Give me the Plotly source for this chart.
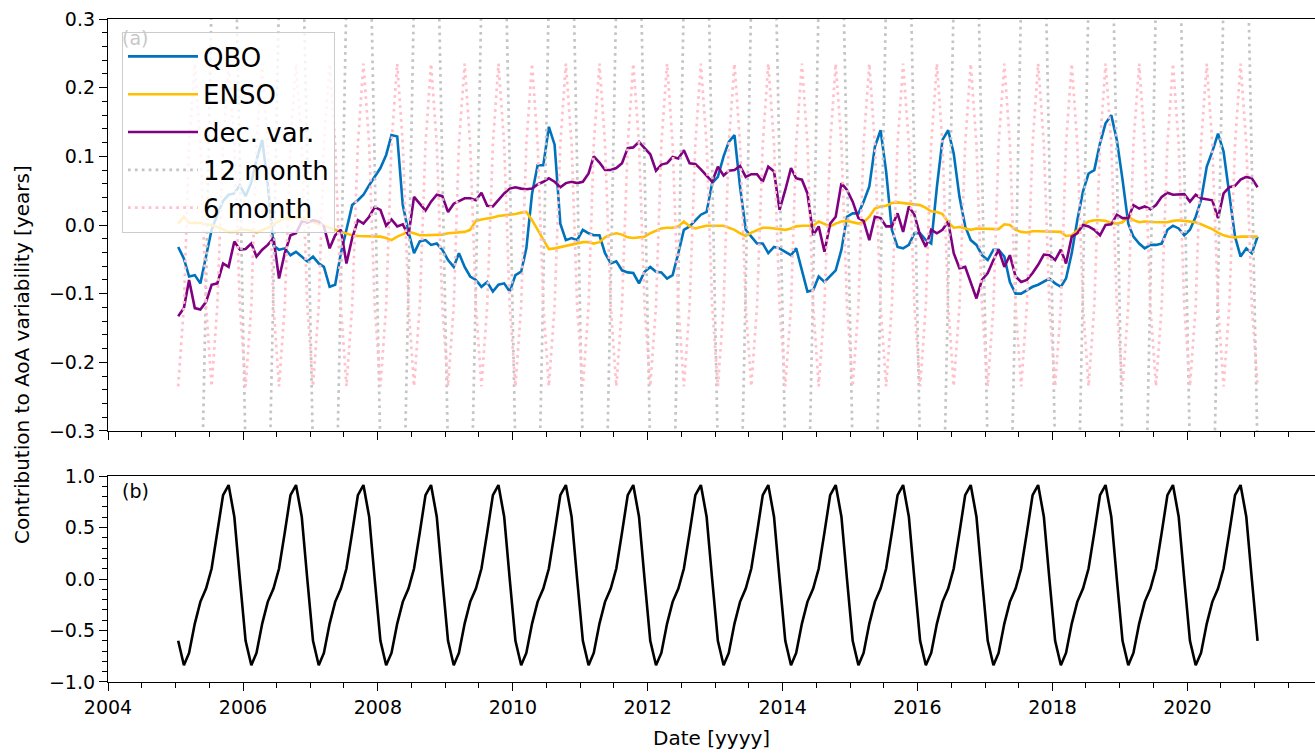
import plotly.graph_objects as go

# ---------------- data (monthly, Jan 2005 .. Jan 2021) ----------------
DATES = [f"{y}-{m:02d}-15" for y in range(2005, 2021) for m in range(1, 13)] + ["2021-01-15"]

QBO = [
    -0.032, -0.049, -0.075, -0.073, -0.085, -0.046, -0.007, 0.015, 0.035, 0.044, 0.046, 0.058,   # 2005
    0.042, 0.062, 0.095, 0.124, 0.060, -0.030, -0.036, -0.034, -0.044, -0.039, -0.046, -0.053,   # 2006
    -0.046, -0.056, -0.061, -0.090, -0.087, -0.041, -0.007, 0.029, 0.036, 0.044, 0.058, 0.070,   # 2007
    0.083, 0.102, 0.131, 0.129, 0.029, -0.010, -0.041, -0.024, -0.022, -0.029, -0.027, -0.036,   # 2008
    -0.051, -0.061, -0.041, -0.061, -0.075, -0.080, -0.090, -0.083, -0.097, -0.087, -0.085, -0.097,  # 2009
    -0.073, -0.068, -0.034, 0.046, 0.087, 0.087, 0.143, 0.117, 0.002, -0.022, -0.019, -0.022,    # 2010
    -0.007, -0.012, -0.015, -0.015, -0.041, -0.056, -0.053, -0.066, -0.069, -0.070, -0.085, -0.068,  # 2011
    -0.061, -0.068, -0.069, -0.078, -0.073, -0.041, -0.007, -0.002, 0.007, 0.015, 0.019, 0.061,  # 2012
    0.070, 0.100, 0.121, 0.131, 0.056, -0.007, -0.017, -0.027, -0.027, -0.041, -0.032, -0.034,   # 2013
    -0.039, -0.044, -0.034, -0.066, -0.097, -0.095, -0.075, -0.083, -0.075, -0.066, -0.036, 0.012,  # 2014
    0.017, 0.017, 0.034, 0.056, 0.114, 0.138, 0.078, -0.007, -0.032, -0.034, -0.029, -0.012,     # 2015
    -0.012, -0.022, -0.027, 0.056, 0.124, 0.138, 0.104, 0.041, -0.002, -0.022, -0.029, -0.044,   # 2016
    -0.051, -0.036, -0.036, -0.046, -0.083, -0.100, -0.100, -0.095, -0.090, -0.087, -0.083, -0.078,  # 2017
    -0.085, -0.090, -0.078, -0.041, 0.007, 0.049, 0.075, 0.080, 0.119, 0.148, 0.160, 0.124,     # 2018
    0.066, 0.002, -0.017, -0.027, -0.034, -0.029, -0.029, -0.027, -0.007, -0.001, -0.005, -0.015,  # 2019
    -0.007, 0.012, 0.036, 0.085, 0.107, 0.133, 0.107, 0.041, -0.017, -0.046, -0.034, -0.041,     # 2020
    -0.017,                                                                                       # 2021
]

ENSO = [
    0.002, 0.012, 0.003, 0.003, 0.003, 0.001, 0.000, -0.003, -0.007, -0.010, -0.010, -0.007,     # 2005
    -0.007, -0.008, -0.011, -0.008, -0.004, 0.001, 0.006, 0.010, 0.010, 0.011, 0.010, 0.007,     # 2006
    0.005, 0.001, -0.002, -0.005, -0.007, -0.010, -0.013, -0.015, -0.016, -0.016, -0.016, -0.016,  # 2007
    -0.017, -0.019, -0.022, -0.017, -0.013, -0.010, -0.012, -0.015, -0.015, -0.015, -0.015, -0.014,  # 2008
    -0.012, -0.011, -0.011, -0.010, -0.007, 0.006, 0.008, 0.009, 0.011, 0.013, 0.014, 0.014,     # 2009
    0.016, 0.018, 0.019, 0.007, -0.007, -0.021, -0.035, -0.034, -0.032, -0.031, -0.029, -0.027,  # 2010
    -0.025, -0.025, -0.027, -0.025, -0.018, -0.014, -0.012, -0.014, -0.018, -0.019, -0.018, -0.017,  # 2011
    -0.012, -0.008, -0.005, -0.004, -0.004, -0.002, 0.005, -0.002, -0.005, -0.003, -0.001, -0.001,  # 2012
    -0.001, -0.001, -0.004, -0.007, -0.012, -0.016, -0.011, -0.007, -0.004, -0.004, -0.005, -0.006,  # 2013
    -0.007, -0.005, -0.002, -0.001, -0.001, -0.001, 0.005, 0.002, -0.002, 0.002, 0.005, 0.006,   # 2014
    0.004, 0.002, 0.004, 0.012, 0.024, 0.027, 0.028, 0.032, 0.033, 0.032, 0.031, 0.030,         # 2015
    0.029, 0.025, 0.020, 0.019, 0.016, 0.004, -0.004, -0.003, -0.005, -0.007, -0.005, -0.005,    # 2016
    -0.005, -0.006, -0.006, 0.001, 0.000, -0.007, -0.010, -0.011, -0.009, -0.009, -0.009, -0.009,  # 2017
    -0.010, -0.010, -0.016, -0.015, -0.008, 0.000, 0.005, 0.007, 0.007, 0.006, 0.003, 0.002,     # 2018
    0.004, 0.012, 0.007, 0.004, 0.005, 0.004, 0.004, 0.004, 0.004, 0.006, 0.007, 0.006,         # 2019
    0.005, 0.004, 0.001, -0.002, -0.006, -0.011, -0.015, -0.017, -0.018, -0.017, -0.017, -0.017,  # 2020
    -0.017,                                                                                       # 2021
]

DEC_VAR = [
    -0.133, -0.121, -0.080, -0.121, -0.123, -0.112, -0.087, -0.085, -0.056, -0.061, -0.024, -0.036,  # 2005
    -0.035, -0.027, -0.046, -0.036, -0.029, -0.019, -0.078, -0.041, -0.015, -0.012, 0.005, 0.003,  # 2006
    0.007, 0.005, -0.002, -0.034, -0.015, -0.007, -0.056, -0.019, 0.007, 0.002, 0.012, 0.026,    # 2007
    0.022, -0.001, 0.008, -0.002, 0.001, -0.015, 0.041, 0.031, 0.021, 0.034, 0.044, 0.042,      # 2008
    0.019, 0.031, 0.035, 0.039, 0.039, 0.036, 0.047, 0.028, 0.027, 0.037, 0.046, 0.053,         # 2009
    0.055, 0.053, 0.052, 0.053, 0.059, 0.063, 0.068, 0.063, 0.055, 0.061, 0.063, 0.061,         # 2010
    0.063, 0.075, 0.100, 0.091, 0.080, 0.080, 0.083, 0.090, 0.112, 0.113, 0.121, 0.112,         # 2011
    0.103, 0.079, 0.088, 0.090, 0.099, 0.097, 0.109, 0.090, 0.089, 0.081, 0.071, 0.063,         # 2012
    0.085, 0.072, 0.079, 0.080, 0.086, 0.070, 0.074, 0.074, 0.063, 0.085, 0.078, 0.022,         # 2013
    0.051, 0.083, 0.068, 0.066, 0.046, -0.015, -0.002, -0.039, 0.002, 0.012, 0.061, 0.051,      # 2014
    0.034, 0.010, 0.006, -0.022, 0.012, 0.010, -0.002, -0.002, 0.017, -0.010, 0.027, 0.015,     # 2015
    -0.015, -0.032, -0.007, -0.012, -0.007, 0.005, -0.041, -0.063, -0.061, -0.085, -0.107, -0.080,  # 2016
    -0.070, -0.051, -0.036, -0.061, -0.044, -0.075, -0.083, -0.080, -0.070, -0.058, -0.043, -0.044,  # 2017
    -0.051, -0.036, -0.056, -0.017, -0.012, 0.000, -0.002, -0.007, -0.015, 0.000, 0.001, 0.015,  # 2018
    0.010, 0.010, 0.029, 0.024, 0.027, 0.023, 0.029, 0.041, 0.047, 0.044, 0.045, 0.045,         # 2019
    0.034, 0.044, 0.039, 0.037, 0.036, 0.010, 0.046, 0.055, 0.057, 0.066, 0.070, 0.068,         # 2020
    0.055,                                                                                        # 2021
]

# 12-month harmonic (large amplitude, mostly outside the visible range)
M12 = [
    -0.334, -0.663, -0.816, -0.750, -0.482, -0.086, 0.334, 0.663, 0.816, 0.750, 0.482, 0.086,  # 2005
    -0.334, -0.663, -0.816, -0.750, -0.482, -0.086, 0.334, 0.663, 0.816, 0.750, 0.482, 0.086,  # 2006
    -0.334, -0.663, -0.816, -0.750, -0.482, -0.086, 0.334, 0.663, 0.816, 0.750, 0.482, 0.086,  # 2007
    -0.334, -0.663, -0.816, -0.750, -0.482, -0.086, 0.334, 0.663, 0.816, 0.750, 0.482, 0.086,  # 2008
    -0.334, -0.663, -0.816, -0.750, -0.482, -0.086, 0.334, 0.663, 0.816, 0.750, 0.482, 0.086,  # 2009
    -0.334, -0.663, -0.816, -0.750, -0.482, -0.086, 0.334, 0.663, 0.816, 0.750, 0.482, 0.086,  # 2010
    -0.334, -0.663, -0.816, -0.750, -0.482, -0.086, 0.334, 0.663, 0.816, 0.750, 0.482, 0.086,  # 2011
    -0.334, -0.663, -0.816, -0.750, -0.482, -0.086, 0.334, 0.663, 0.816, 0.750, 0.482, 0.086,  # 2012
    -0.334, -0.663, -0.816, -0.750, -0.482, -0.086, 0.334, 0.663, 0.816, 0.750, 0.482, 0.086,  # 2013
    -0.334, -0.663, -0.816, -0.750, -0.482, -0.086, 0.334, 0.663, 0.816, 0.750, 0.482, 0.086,  # 2014
    -0.334, -0.663, -0.816, -0.750, -0.482, -0.086, 0.334, 0.663, 0.816, 0.750, 0.482, 0.086,  # 2015
    -0.334, -0.663, -0.816, -0.750, -0.482, -0.086, 0.334, 0.663, 0.816, 0.750, 0.482, 0.086,  # 2016
    -0.334, -0.663, -0.816, -0.750, -0.482, -0.086, 0.334, 0.663, 0.816, 0.750, 0.482, 0.086,  # 2017
    -0.334, -0.663, -0.816, -0.750, -0.482, -0.086, 0.334, 0.663, 0.816, 0.750, 0.482, 0.086,  # 2018
    -0.334, -0.663, -0.816, -0.750, -0.482, -0.086, 0.334, 0.663, 0.816, 0.750, 0.482, 0.086,  # 2019
    -0.334, -0.663, -0.816, -0.750, -0.482, -0.086, 0.334, 0.663, 0.816, 0.750, 0.482, 0.086,  # 2020
    -0.334,                                                                                     # 2021
]

# 6-month harmonic
M6 = [
    -0.235, -0.118, 0.118, 0.235, 0.118, -0.118, -0.235, -0.118, 0.118, 0.235, 0.118, -0.118,  # 2005
    -0.235, -0.118, 0.118, 0.235, 0.118, -0.118, -0.235, -0.118, 0.118, 0.235, 0.118, -0.118,  # 2006
    -0.235, -0.118, 0.118, 0.235, 0.118, -0.118, -0.235, -0.118, 0.118, 0.235, 0.118, -0.118,  # 2007
    -0.235, -0.118, 0.118, 0.235, 0.118, -0.118, -0.235, -0.118, 0.118, 0.235, 0.118, -0.118,  # 2008
    -0.235, -0.118, 0.118, 0.235, 0.118, -0.118, -0.235, -0.118, 0.118, 0.235, 0.118, -0.118,  # 2009
    -0.235, -0.118, 0.118, 0.235, 0.118, -0.118, -0.235, -0.118, 0.118, 0.235, 0.118, -0.118,  # 2010
    -0.235, -0.118, 0.118, 0.235, 0.118, -0.118, -0.235, -0.118, 0.118, 0.235, 0.118, -0.118,  # 2011
    -0.235, -0.118, 0.118, 0.235, 0.118, -0.118, -0.235, -0.118, 0.118, 0.235, 0.118, -0.118,  # 2012
    -0.235, -0.118, 0.118, 0.235, 0.118, -0.118, -0.235, -0.118, 0.118, 0.235, 0.118, -0.118,  # 2013
    -0.235, -0.118, 0.118, 0.235, 0.118, -0.118, -0.235, -0.118, 0.118, 0.235, 0.118, -0.118,  # 2014
    -0.235, -0.118, 0.118, 0.235, 0.118, -0.118, -0.235, -0.118, 0.118, 0.235, 0.118, -0.118,  # 2015
    -0.235, -0.118, 0.118, 0.235, 0.118, -0.118, -0.235, -0.118, 0.118, 0.235, 0.118, -0.118,  # 2016
    -0.235, -0.118, 0.118, 0.235, 0.118, -0.118, -0.235, -0.118, 0.118, 0.235, 0.118, -0.118,  # 2017
    -0.235, -0.118, 0.118, 0.235, 0.118, -0.118, -0.235, -0.118, 0.118, 0.235, 0.118, -0.118,  # 2018
    -0.235, -0.118, 0.118, 0.235, 0.118, -0.118, -0.235, -0.118, 0.118, 0.235, 0.118, -0.118,  # 2019
    -0.235, -0.118, 0.118, 0.235, 0.118, -0.118, -0.235, -0.118, 0.118, 0.235, 0.118, -0.118,  # 2020
    -0.235,                                                                                     # 2021
]

# panel (b): seasonal cycle
SEASONAL = [
    -0.600, -0.838, -0.718, -0.433, -0.222, -0.092, 0.102, 0.450, 0.815, 0.912, 0.605, 0.000,  # 2005
    -0.600, -0.838, -0.718, -0.433, -0.222, -0.092, 0.102, 0.450, 0.815, 0.912, 0.605, 0.000,  # 2006
    -0.600, -0.838, -0.718, -0.433, -0.222, -0.092, 0.102, 0.450, 0.815, 0.912, 0.605, 0.000,  # 2007
    -0.600, -0.838, -0.718, -0.433, -0.222, -0.092, 0.102, 0.450, 0.815, 0.912, 0.605, 0.000,  # 2008
    -0.600, -0.838, -0.718, -0.433, -0.222, -0.092, 0.102, 0.450, 0.815, 0.912, 0.605, 0.000,  # 2009
    -0.600, -0.838, -0.718, -0.433, -0.222, -0.092, 0.102, 0.450, 0.815, 0.912, 0.605, 0.000,  # 2010
    -0.600, -0.838, -0.718, -0.433, -0.222, -0.092, 0.102, 0.450, 0.815, 0.912, 0.605, 0.000,  # 2011
    -0.600, -0.838, -0.718, -0.433, -0.222, -0.092, 0.102, 0.450, 0.815, 0.912, 0.605, 0.000,  # 2012
    -0.600, -0.838, -0.718, -0.433, -0.222, -0.092, 0.102, 0.450, 0.815, 0.912, 0.605, 0.000,  # 2013
    -0.600, -0.838, -0.718, -0.433, -0.222, -0.092, 0.102, 0.450, 0.815, 0.912, 0.605, 0.000,  # 2014
    -0.600, -0.838, -0.718, -0.433, -0.222, -0.092, 0.102, 0.450, 0.815, 0.912, 0.605, 0.000,  # 2015
    -0.600, -0.838, -0.718, -0.433, -0.222, -0.092, 0.102, 0.450, 0.815, 0.912, 0.605, 0.000,  # 2016
    -0.600, -0.838, -0.718, -0.433, -0.222, -0.092, 0.102, 0.450, 0.815, 0.912, 0.605, 0.000,  # 2017
    -0.600, -0.838, -0.718, -0.433, -0.222, -0.092, 0.102, 0.450, 0.815, 0.912, 0.605, 0.000,  # 2018
    -0.600, -0.838, -0.718, -0.433, -0.222, -0.092, 0.102, 0.450, 0.815, 0.912, 0.605, 0.000,  # 2019
    -0.600, -0.838, -0.718, -0.433, -0.222, -0.092, 0.102, 0.450, 0.815, 0.912, 0.605, 0.000,  # 2020
    -0.600,                                                                                     # 2021
]

SERIES_NAMES = ["QBO", "ENSO", "dec. var.", "12 month", "6 month"]
YTICKS_A = [-0.3, -0.2, -0.1, 0.0, 0.1, 0.2, 0.3]
YTICKS_B = [-1.0, -0.5, 0.0, 0.5, 1.0]

# ---------------- figure ----------------
FONT = "DejaVu Sans"
W, H = 1315, 753
ML, MR, MT, MB = 108, 0, 19, 71
PH = H - MT - MB
def py(ypix):
    return (H - MB - ypix) / PH
def px(xpix):
    return (xpix - ML) / (W - ML - MR)

styles = [
    dict(color="#0072BD", width=2.6),
    dict(color="#FFBF00", width=2.6),
    dict(color="#800080", width=2.6),
    dict(color="#C4C4C4", width=2.7, dash="2.7px,4.2px"),
    dict(color="#FFC0CB", width=2.7, dash="2.7px,4.2px"),
]
fig = go.Figure()
for name, vals, st in zip(SERIES_NAMES, [QBO, ENSO, DEC_VAR, M12, M6], styles):
    fig.add_trace(go.Scatter(x=DATES, y=vals, mode="lines", name=name, line=st,
                             xaxis="x", yaxis="y", legendgroup=name))
fig.add_trace(go.Scatter(x=DATES, y=SEASONAL, mode="lines", line=dict(color="black", width=2.6),
                         xaxis="x2", yaxis="y2", showlegend=False))

XRANGE = ["2004-01-01", "2021-11-22"]
common_x = dict(range=XRANGE, type="date", tick0="2004-01-01", dtick="M24", ticks="outside",
                ticklen=8, tickwidth=1.3, tickcolor="black", showline=True, linecolor="black",
                linewidth=1.3, mirror=True, showgrid=False, zeroline=False,
                minor=dict(dtick="M6", tick0="2004-01-01", ticks="outside", ticklen=4.5,
                           tickwidth=1.1, tickcolor="black", showgrid=False),
                tickfont=dict(family=FONT, size=19, color="black"))
common_y = dict(ticks="outside", ticklen=8, tickwidth=1.3, tickcolor="black", showline=True,
                linecolor="black", linewidth=1.3, mirror=False, showgrid=False, zeroline=False,
                tickformat=".1f", tickmode="array",
                tickfont=dict(family=FONT, size=19, color="black"))

fig.update_layout(
    width=W, height=H,
    margin=dict(l=ML, r=MR, t=MT, b=MB),
    paper_bgcolor="white", plot_bgcolor="white",
    font=dict(family=FONT, color="black"),
    xaxis=dict(common_x, domain=[0, 1], anchor="y", matches="x2", showticklabels=False),
    xaxis2=dict(common_x, domain=[0, 1], anchor="y2", tickformat="%Y"),
    yaxis=dict(common_y, domain=[py(431), 1], anchor="x", range=[-0.30001, 0.30001],
               tickvals=YTICKS_A,
               minor=dict(tickmode="linear", tick0=-0.3, dtick=0.02, ticks="outside", ticklen=4.5,
                          tickwidth=1.1, tickcolor="black", showgrid=False)),
    yaxis2=dict(common_y, domain=[0, py(476)], anchor="x2", range=[-1.0001, 1.0001],
                tickvals=YTICKS_B,
                minor=dict(tickmode="linear", tick0=-1, dtick=0.1, ticks="outside", ticklen=4.5,
                           tickwidth=1.1, tickcolor="black", showgrid=False)),
    legend=dict(x=px(122), y=py(32), xanchor="left", yanchor="top",
                bgcolor="rgba(255,255,255,0.8)", bordercolor="#cccccc", borderwidth=1,
                font=dict(family=FONT, size=26, color="black"),
                tracegroupgap=1, itemwidth=70),
    showlegend=True,
    annotations=[
        dict(text="(a)", x=px(120), y=py(37.5), xref="paper", yref="paper", xanchor="left",
             yanchor="middle", showarrow=False, font=dict(family=FONT, size=19, color="#c8c8c8")),
        dict(text="(b)", x=px(120), y=py(490.5), xref="paper", yref="paper", xanchor="left",
             yanchor="middle", showarrow=False, font=dict(family=FONT, size=19, color="black")),
        dict(text="Contribution to AoA variability [years]", x=px(22), y=py(355), xref="paper",
             yref="paper", xanchor="center", yanchor="middle", textangle=-90, showarrow=False,
             font=dict(family=FONT, size=20, color="black")),
        dict(text="Date [yyyy]", x=0.5, y=py(738), xref="paper", yref="paper", xanchor="center",
             yanchor="middle", showarrow=False, font=dict(family=FONT, size=20, color="black")),
    ],
)

fig.write_html("out.html", config={"displayModeBar": False},
               post_script="document.body.style.margin='0px';document.body.style.overflow='hidden';")
